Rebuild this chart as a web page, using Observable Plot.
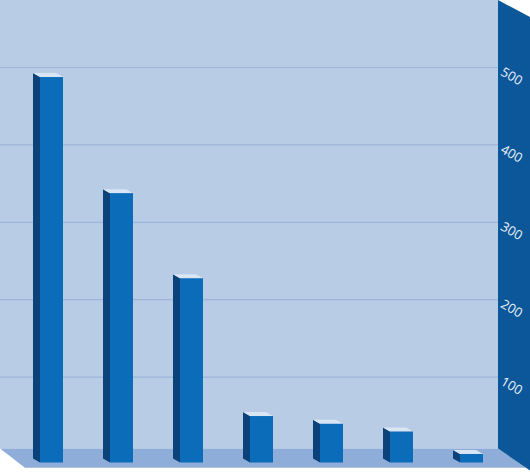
<!DOCTYPE html>
<html><head><meta charset="utf-8">
<script src="https://cdn.jsdelivr.net/npm/d3@7"></script>
<script src="https://cdn.jsdelivr.net/npm/@observablehq/plot@0.6"></script>
<style>html,body{margin:0;padding:0;background:#fff;}</style>
</head><body><div id="chart"></div>
<script>
const categories = ["1", "2", "3", "4", "5", "6", "7"];
const values = [498, 348, 238, 60, 50, 40, 11];
const yTicks = [100, 200, 300, 400, 500];

const data = categories.map((c, i) => ({cat: c, value: values[i]}));

const W = 530, H = 472;
const WALL = 32;          // width of the right side wall (px)
const FRONT = 8.5;        // vertical offset of bar front plane vs back wall (px)
const DX = 7, DY = 4;     // bar depth (px)

const colors = {
  back: "#b9cce5",
  grid: "#9db5dc",
  floor: "#8eadd9",
  wall: "#0c5799",
  label: "#eef4fb",
  front: "#0b6cba",
  side: "#0a4279",
  top: "#d8e5f5"
};

function scenery(index, scales, vals, dims) {
  const g = d3.create("svg:g");
  const y0 = scales.y(0);
  const wx = dims.width - WALL;
  const floorTop = y0 - 5.5;
  g.append("rect").attr("x", 0).attr("y", 0).attr("width", wx).attr("height", floorTop).attr("fill", colors.back);
  return g.node();
}

function floorAndWall(index, scales, vals, dims) {
  const g = d3.create("svg:g");
  const y0 = scales.y(0);
  const wx = dims.width - WALL;
  const floorTop = y0 - 5.5;
  const floorBot = y0 + 13.7;
  g.append("polygon")
    .attr("points", [[0, floorTop], [wx, floorTop], [wx + 28, floorBot], [25, floorBot]].map(p => p.join(",")).join(" "))
    .attr("fill", colors.floor);
  g.append("polygon")
    .attr("points", [[wx, 0], [dims.width, 17], [dims.width, floorTop + 22], [wx, floorTop]].map(p => p.join(",")).join(" "))
    .attr("fill", colors.wall);
  return g.node();
}

function barSides(index, scales, vals, dims) {
  const g = d3.create("svg:g");
  const bw = scales.x.bandwidth ? scales.x.bandwidth() : 23;
  for (const d of data) {
    const x0 = scales.x(d.cat);
    const yt = scales.y(d.value) + FRONT;
    const yb = scales.y(0) + FRONT;
    g.append("polygon")
      .attr("points", [[x0 - DX, yt - DY], [x0, yt], [x0, yb], [x0 - DX, yb - DY]].map(p => p.join(",")).join(" "))
      .attr("fill", colors.side);
    g.append("polygon")
      .attr("points", [[x0 - DX, yt - DY], [x0 + bw - DX, yt - DY], [x0 + bw, yt], [x0, yt]].map(p => p.join(",")).join(" "))
      .attr("fill", colors.top);
  }
  return g.node();
}

const chart = Plot.plot({
  width: W,
  height: H,
  margin: 0,
  style: {background: "#ffffff", overflow: "visible"},
  x: {type: "band", domain: categories, range: [17, 507], paddingInner: 0.67, paddingOuter: 0.335, axis: null},
  y: {domain: [0, 500], range: [454, 67], axis: null},
  marks: [
    scenery,
    Plot.ruleY(yTicks, {y: d => d, stroke: colors.grid, strokeWidth: 1.2, insetRight: WALL}),
    floorAndWall,
    Plot.text(yTicks, {
      y: d => d, text: d => String(d), frameAnchor: "right", dx: -19, dy: 9,
      rotate: 30, textAnchor: "middle", fill: colors.label, fontSize: 13,
      fontFamily: "Open Sans", letterSpacing: -0.6
    }),
    barSides,
    Plot.barY(data, {x: "cat", y: "value", fill: colors.front, dy: FRONT})
  ]
});
document.getElementById("chart").appendChild(chart);
</script>
</body></html>
